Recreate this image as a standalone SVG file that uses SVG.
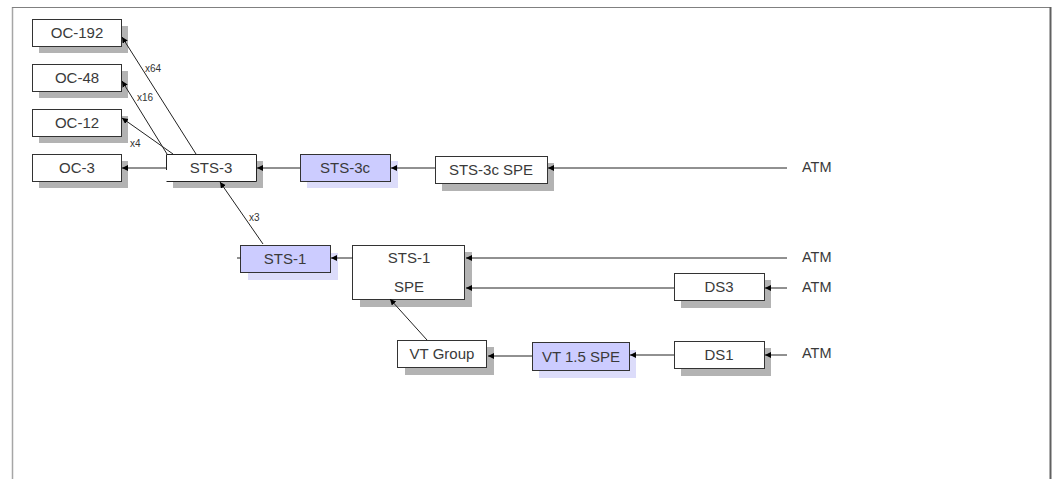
<svg xmlns="http://www.w3.org/2000/svg" width="1056" height="479" viewBox="0 0 1056 479">
<defs>
<style>
.box{fill:#fff;stroke:#333;stroke-width:1}
.lav{fill:#ccccff;stroke:#333;stroke-width:1}
.sh{fill:#b3b3b3}
.lsh{fill:#dcdcfa}
.t{font-family:"Liberation Sans",Arial,sans-serif;font-size:15px;fill:#3a3a3a;text-anchor:middle}
.atm{font-family:"Liberation Sans",Arial,sans-serif;font-size:14.5px;fill:#3a3a3a}
.m{font-family:"Liberation Sans",Arial,sans-serif;font-size:10px;fill:#333}
.c{stroke:#222;stroke-width:1;fill:none}
</style>
<marker id="ah" markerUnits="userSpaceOnUse" markerWidth="7" markerHeight="7" refX="6" refY="3" orient="auto">
<path d="M0,0 L6,3 L0,6 z" fill="#000"/>
</marker>
</defs>
<rect width="1056" height="479" fill="#fff"/>
<g id="frame">
<line x1="12.5" y1="7" x2="12.5" y2="479" stroke="#a6a6a6" stroke-width="1.5"/>
<line x1="12" y1="7.5" x2="1051" y2="7.5" stroke="#808080" stroke-width="1"/>
<line x1="1050.5" y1="7" x2="1050.5" y2="479" stroke="#606060" stroke-width="2"/>
</g>
<g id="oc192"><rect class="sh" x="39" y="26" width="89" height="27"/><rect class="box" x="32.5" y="19.5" width="89" height="27"/><text class="t" x="77" y="38">OC-192</text></g>
<g id="oc48"><rect class="sh" x="39" y="71" width="89" height="27"/><rect class="box" x="32.5" y="64.5" width="89" height="27"/><text class="t" x="77" y="83">OC-48</text></g>
<g id="oc12"><rect class="sh" x="39" y="116" width="89" height="27"/><rect class="box" x="32.5" y="109.5" width="89" height="27"/><text class="t" x="77" y="128">OC-12</text></g>
<g id="oc3"><rect class="sh" x="39" y="161" width="89" height="27"/><rect class="box" x="32.5" y="154.5" width="89" height="27"/><text class="t" x="77" y="173">OC-3</text></g>
<g id="sts3"><rect class="sh" x="173" y="161" width="90" height="27"/><rect x="166.5" y="154.5" width="90" height="27" fill="#fff"/><path class="c" d="M166.5,170 L166.5,154.5 L256.5,154.5 L256.5,181.5 L166.5,181.5"/><text class="t" x="211" y="173">STS-3</text></g>
<g id="sts3c"><rect class="lsh" x="307" y="161" width="91" height="27"/><rect class="lav" x="300.5" y="154.5" width="90" height="27"/><text class="t" x="345" y="173">STS-3c</text></g>
<g id="sts3cspe"><rect class="sh" x="442" y="163" width="112" height="28"/><rect class="box" x="435.5" y="156.5" width="112" height="27"/><text class="t" x="491" y="175">STS-3c SPE</text></g>
<g id="sts1"><rect class="lsh" x="248" y="253" width="90" height="27"/><rect class="lav" x="240.5" y="245.5" width="90" height="27"/><text class="t" x="285" y="264">STS-1</text></g>
<g id="sts1spe"><rect class="sh" x="360" y="252" width="112" height="55"/><rect class="box" x="352.5" y="245.5" width="112" height="54"/><text class="t" x="409" y="263">STS-1</text><text class="t" x="409" y="292">SPE</text></g>
<g id="vtgroup"><rect class="sh" x="405" y="347" width="89" height="28"/><rect class="box" x="397.5" y="340.5" width="89" height="27"/><text class="t" x="442" y="359">VT Group</text></g>
<g id="vt15spe"><rect class="lsh" x="539" y="350" width="97" height="28"/><rect class="lav" x="532.5" y="342.5" width="97" height="28"/><text class="t" x="581" y="362">VT 1.5 SPE</text></g>
<g id="ds3"><rect class="sh" x="681" y="280" width="90" height="28"/><rect class="box" x="674.5" y="273.5" width="90" height="27"/><text class="t" x="719" y="292">DS3</text></g>
<g id="ds1"><rect class="sh" x="681" y="348" width="90" height="28"/><rect class="box" x="674.5" y="341.5" width="90" height="27"/><text class="t" x="719" y="360">DS1</text></g>
<g id="connectors">
<path class="c" d="M787,168 L548,168" marker-end="url(#ah)"/>
<path class="c" d="M435,168 L391,168" marker-end="url(#ah)"/>
<path class="c" d="M300,168 L257,168" marker-end="url(#ah)"/>
<path class="c" d="M166,168 L122,168" marker-end="url(#ah)"/>
<path class="c" d="M173,154 L122,118" marker-end="url(#ah)"/>
<path class="c" d="M167,154 L122,81" marker-end="url(#ah)"/>
<path class="c" d="M196,154 L122,37" marker-end="url(#ah)"/>
<path class="c" d="M263,244 L220,182" marker-end="url(#ah)"/>
<path class="c" d="M353,258 L331,258" marker-end="url(#ah)"/>
<path class="c" d="M237,258 L241,258"/>
<path class="c" d="M787,258 L466,258" marker-end="url(#ah)"/>
<path class="c" d="M674,288 L466,288" marker-end="url(#ah)"/>
<path class="c" d="M787,288 L765,288" marker-end="url(#ah)"/>
<path class="c" d="M427,340 L390,299" marker-end="url(#ah)"/>
<path class="c" d="M532,356 L488,356" marker-end="url(#ah)"/>
<path class="c" d="M674,355 L630,355" marker-end="url(#ah)"/>
<path class="c" d="M787,355 L765,355" marker-end="url(#ah)"/>
<text class="m" x="145" y="72">x64</text>
<text class="m" x="137" y="101">x16</text>
<text class="m" x="130" y="147">x4</text>
<text class="m" x="249" y="221">x3</text>
</g>
<g id="atm-labels">
<text class="atm" x="802" y="172">ATM</text>
<text class="atm" x="802" y="262">ATM</text>
<text class="atm" x="802" y="292">ATM</text>
<text class="atm" x="802" y="358">ATM</text>
</g>
</svg>
